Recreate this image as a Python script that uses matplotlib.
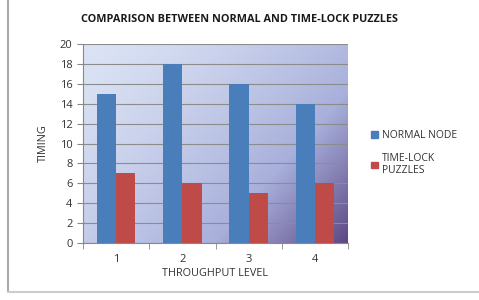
import matplotlib
matplotlib.use("Agg")
import matplotlib.pyplot as plt
import numpy as np
from matplotlib.lines import Line2D
from matplotlib.patches import Patch

levels = ["1", "2", "3", "4"]
normal_node = [15, 18, 16, 14]
time_lock = [7, 6, 5, 6]

plt.rcParams["font.family"] = ["Open Sans", "DejaVu Sans"]

fig = plt.figure(figsize=(4.79, 3.00), dpi=100)
ax = fig.add_axes([83 / 479, 1 - 243 / 300, 265 / 479, 199 / 300])

# diagonal gradient background (light blue top-left -> purple bottom-right)
n = 200
gx, gy = np.meshgrid(np.linspace(0, 1, n), np.linspace(0, 1, n))
t = np.clip((gx * 0.6 + gy * 0.4), 0, 1) ** 1.4
c0 = np.array([0.86, 0.89, 0.96])
c1 = np.array([0.66, 0.69, 0.86])
c2 = np.array([0.36, 0.28, 0.52])
img = np.where(t[..., None] < 0.6,
               c0 + (c1 - c0) * (t[..., None] / 0.6),
               c1 + (c2 - c1) * ((t[..., None] - 0.6) / 0.4))
ax.imshow(img, extent=[0, 1, 0, 1], origin="upper", transform=ax.transAxes,
          aspect="auto", zorder=0)

x = np.arange(len(levels))
w = 0.29
ax.bar(x - w / 2, normal_node, w, color="#4a7ebb", zorder=3)
ax.bar(x + w / 2, time_lock, w, color="#be4b48", zorder=3)

ax.set_xlim(-0.5, 3.5)
ax.set_ylim(0, 20)
ax.set_yticks(range(0, 21, 2))
ax.yaxis.grid(True, color="#8c8c8c", linewidth=0.8, zorder=1)
ax.set_xticks(x)
ax.set_xticklabels(levels)
ax.set_xticks(np.arange(-0.5, 4, 1), minor=True)
ax.tick_params(axis="x", which="major", length=0, pad=8, labelsize=8, colors="#333333")
ax.tick_params(axis="x", which="minor", length=4, color="#888888")
ax.tick_params(axis="y", length=4, color="#888888", labelsize=8, colors="#333333")
for side in ["top", "right"]:
    ax.spines[side].set_visible(False)
ax.spines["left"].set_color("#888888")
ax.spines["bottom"].set_color("#888888")

ax.set_xlabel("THROUGHPUT LEVEL", fontsize=7.8, color="#333333", labelpad=2)
ax.set_ylabel("TIMING", fontsize=7.8, color="#333333", labelpad=8)
fig.text(0.5, 1 - 19 / 300, "COMPARISON BETWEEN NORMAL AND TIME-LOCK PUZZLES",
         ha="center", va="center", fontsize=7.8, fontweight="bold", color="#1a1a1a")

handles = [Patch(color="#4a7ebb"), Patch(color="#be4b48")]
fig.legend(handles, ["NORMAL NODE", "TIME-LOCK\nPUZZLES"], loc="upper left",
           bbox_to_anchor=(362 / 479, 1 - 121 / 300), frameon=False,
           fontsize=7.5, handlelength=0.6, handleheight=0.6, handletextpad=0.4,
           labelspacing=1.1, labelcolor="#333333")

# outer chart border
fig.add_artist(Line2D([8 / 479, 8 / 479], [1 - 291 / 300, 1], color="#aaaaaa", lw=1.5))
fig.add_artist(Line2D([8 / 479, 1], [1 - 292 / 300, 1 - 292 / 300], color="#cccccc", lw=1.5))

fig.savefig("out.png", dpi=100)
